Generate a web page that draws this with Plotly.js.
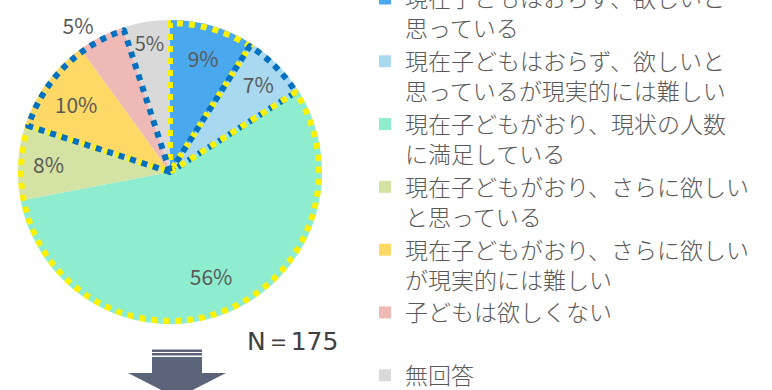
<!DOCTYPE html>
<html>
<head>
<meta charset="utf-8">
<script src="https://cdn.plot.ly/plotly-3.0.1.min.js"></script>
<style>
	html, body { margin:0; padding:0; overflow:hidden; background:#fff; }
	/* the reference is a crop: top of legend and bottom of arrow are cut */
	#chart { position:absolute; left:0; top:-30px; width:772px; height:430px; }
</style>
</head>
<body>
<div id="chart"></div>
<script>

var answers = [
	'現在子どもはおらず、欲しいと<br>思っている',
	'現在子どもはおらず、欲しいと<br>思っているが現実的には難しい',
	'現在子どもがおり、現状の人数<br>に満足している',
	'現在子どもがおり、さらに欲しい<br>と思っている',
	'現在子どもがおり、さらに欲しい<br>が現実的には難しい',
	'子どもは欲しくない<br> ',
	'無回答'
];
var shares = [9, 7, 56, 8, 10, 5, 5];
var sliceColors = ['#4AA9EE', '#A9D9F0', '#8EEDCF', '#D4E2A4', '#FFD966', '#EFB9B5', '#D9D9D9'];
var labelPlace = ['inside', 'inside', 'inside', 'inside', 'inside', 'outside', 'inside'];

// dotted frames drawn round groups of answers
var outlineGroups = [[0], [1], [2, 3], [4, 5], [6]];
var outlineColors = ['#FFF200', '#0070C0', '#FFF200', '#0070C0', 'rgba(0,0,0,0)'];

var sampleSize = 175;

var W = 772, H = 430, OFF = 30;

function px(x) { return x / W; }
function py(y) { return 1 - (y + OFF) / H; }

// domain of a circle given in screen pixels
function circleDomain(cx, cy, r) {
	return {x: [px(cx - r), px(cx + r)], y: [py(cy + r), py(cy - r)]};
}

var pieDomain = circleDomain(170, 172, 152);
var frameDomain = circleDomain(170, 172, 149);

var clear = 'rgba(0,0,0,0)';

var groupValues = [];
var groupNames = [];
for (var g = 0; g < outlineGroups.length; g++) {
	var s = 0;
	for (var idx of outlineGroups[g]) {
		s += shares[idx];
	}
	groupValues.push(s);
	groupNames.push('frame' + g);
}

var textNames = shares.map(function (v, i) { return 'txt' + i; });

var mainPie = {
	type: 'pie',
	labels: answers,
	values: shares,
	sort: false,
	direction: 'clockwise',
	domain: pieDomain,
	marker: {colors: sliceColors, line: {width: 0}},
	textinfo: 'none',
	hoverinfo: 'skip'
};

var framePie = {
	type: 'pie',
	labels: groupNames,
	values: groupValues,
	sort: false,
	direction: 'clockwise',
	domain: frameDomain,
	showlegend: false,
	marker: {colors: groupValues.map(function () { return clear; }),
		line: {color: outlineColors, width: 6}},
	textinfo: 'none',
	hoverinfo: 'skip'
};

var textPie = {
	type: 'pie',
	labels: textNames,
	values: shares,
	sort: false,
	direction: 'clockwise',
	domain: pieDomain,
	hole: 0.47,
	showlegend: false,
	marker: {colors: shares.map(function () { return clear; }), line: {width: 0}},
	texttemplate: '%{value}%',
	textposition: labelPlace,
	insidetextorientation: 'horizontal',
	textfont: {family: '"Noto Sans CJK JP", "Noto Sans", sans-serif', size: 21, color: '#595959'},
	hoverinfo: 'skip'
};

var arrowColor = '#5B6478';

var layout = {
	width: W,
	height: H,
	margin: {l: 0, r: 0, t: 0, b: 0},
	paper_bgcolor: '#ffffff',
	showlegend: true,
	legend: {
		x: px(365),
		xanchor: 'left',
		y: py(-23),
		yanchor: 'top',
		valign: 'top',
		bgcolor: clear,
		borderwidth: 0,
		font: {family: '"Noto Sans CJK JP", sans-serif', size: 23, weight: 300, color: '#595959'}
	},
	annotations: [{
		xref: 'paper', yref: 'paper',
		x: px(245), y: py(341),
		xanchor: 'left', yanchor: 'middle',
		text: 'N＝' + sampleSize,
		showarrow: false,
		font: {family: '"DejaVu Sans", sans-serif', size: 25, color: '#404040'}
	}],
	shapes: [
		{type: 'rect', xref: 'paper', yref: 'paper', x0: px(152), x1: px(202), y0: py(352), y1: py(349.5),
			fillcolor: arrowColor, line: {width: 0}},
		{type: 'rect', xref: 'paper', yref: 'paper', x0: px(152), x1: px(202), y0: py(355.5), y1: py(353),
			fillcolor: arrowColor, line: {width: 0}},
		{type: 'rect', xref: 'paper', yref: 'paper', x0: px(152), x1: px(202), y0: py(373), y1: py(357),
			fillcolor: arrowColor, line: {width: 0}},
		{type: 'path', xref: 'paper', yref: 'paper',
			path: 'M' + px(128) + ',' + py(373) + ' L' + px(226) + ',' + py(373) + ' L' + px(177) + ',' + py(398) + ' Z',
			fillcolor: arrowColor, line: {width: 0}}
	]
};

Plotly.newPlot('chart', [mainPie, framePie, textPie], layout, {staticPlot: true}).then(function (gd) {
	// pie lines have no dash option, so the frames get their dots here
	var traces = gd.querySelectorAll('.pielayer > g.trace');
	if (traces.length > 1) {
		traces[1].querySelectorAll('path.surface').forEach(function (p) {
			p.style.strokeDasharray = '6px,6px';
		});
	}
});

</script>
</body>
</html>
